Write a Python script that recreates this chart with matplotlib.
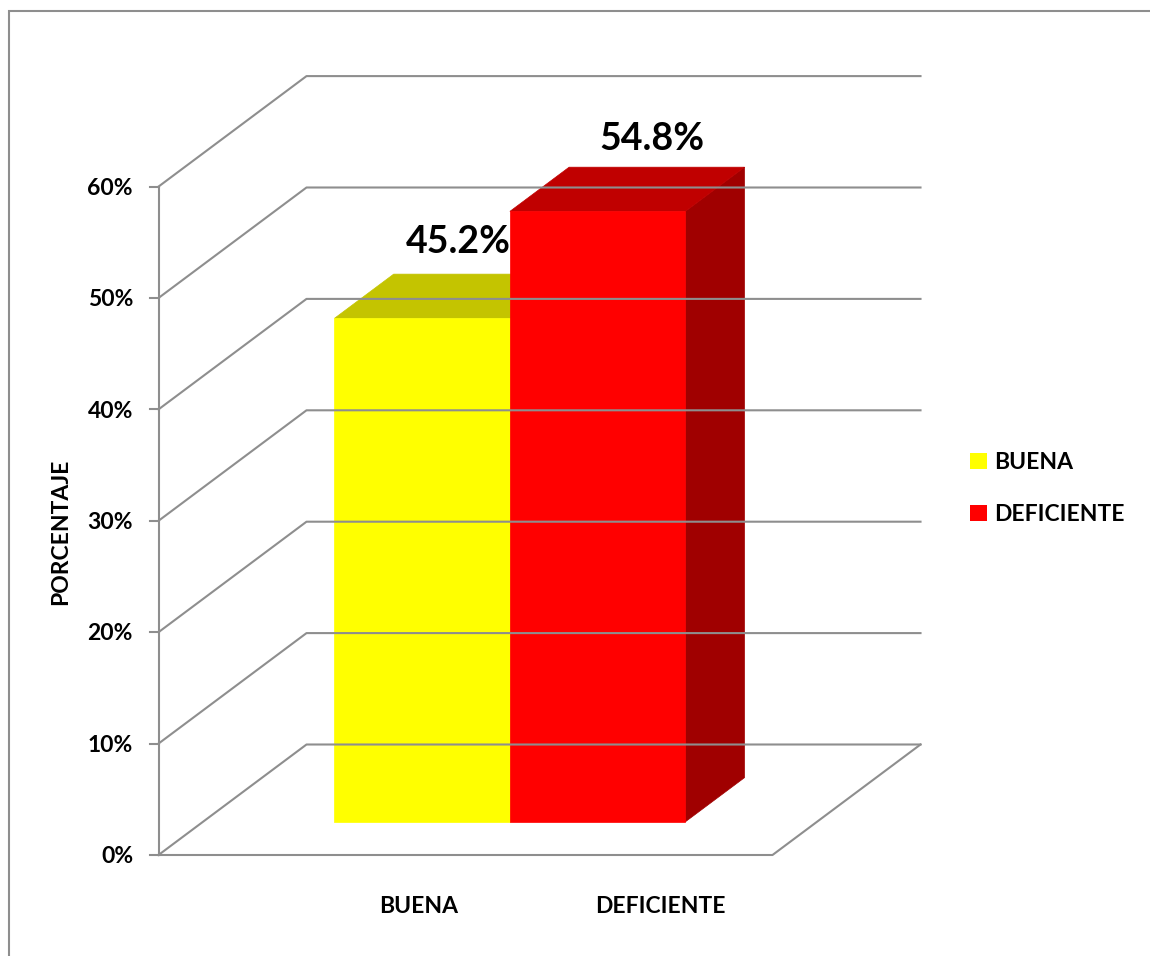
import matplotlib
matplotlib.use('Agg')
import matplotlib.pyplot as plt
from matplotlib.patches import Polygon, Rectangle

# ---------------- data ----------------
categories = ['BUENA', 'DEFICIENTE']
values = [45.2, 54.8]
y_ticks = [0, 10, 20, 30, 40, 50, 60]
y_tick_labels = ['0%', '10%', '20%', '30%', '40%', '50%', '60%']
axis_title = 'PORCENTAJE'

# ---------------- style ----------------
front_colors = ['#FFFF00', '#FF0000']
top_colors = ['#C4C400', '#C00000']
side_colors = ['#A0A000', '#A00000']
GRID = '#8E8E8E'
FONT = ['Lato', 'DejaVu Sans']

# projection of the 3-D box (pixel space of the figure)
X0, Y0 = 158.5, 855.0      # front-left-bottom corner
W = 614.0                  # width of the floor front edge
DX, DY = 148.0, 110.5      # depth offset
PX_PER_PCT = 11.14
GAP_WIDTH = 0.75
D0, D1 = 0.3, 0.7          # bar depth span


def proj(u, v, d):
    return (X0 + u * W + d * DX, Y0 - v * PX_PER_PCT - d * DY)


fig = plt.figure(figsize=(11.5, 9.56), dpi=100)
ax = fig.add_axes([0, 0, 1, 1])
ax.set_xlim(0, 1150)
ax.set_ylim(956, 0)
ax.axis('off')

# chart border (extends past right / bottom edge)
ax.plot([9, 9, 1160], [970, 11, 11], color=GRID, lw=1.5, solid_joinstyle='miter')

# walls gridlines
for t in y_ticks:
    pts = [proj(0, t, 0), proj(0, t, 1), proj(1, t, 1)]
    ax.plot([p[0] for p in pts], [p[1] for p in pts], color=GRID, lw=1.5)
# floor
pts = [proj(0, 0, 0), proj(1, 0, 0), proj(1, 0, 1)]
ax.plot([p[0] for p in pts], [p[1] for p in pts], color=GRID, lw=1.5)
# vertical axis + ticks
a0, a1 = proj(0, 0, 0), proj(0, y_ticks[-1], 0)
ax.plot([a0[0], a1[0]], [a0[1], a1[1]], color=GRID, lw=1.5)
for t, lab in zip(y_ticks, y_tick_labels):
    x, y = proj(0, t, 0)
    ax.plot([x - 8.5, x], [y, y], color=GRID, lw=1.5)
    ax.text(x - 25.5, y + 8.2, lab, ha='right', va='baseline',
            fontsize=16.5, fontweight='bold', family=FONT, color='black')

# bars
cluster = 1.0 / (1.0 + GAP_WIDTH)
bw = cluster / len(values)
LABEL_DX = [-23, -5]
LABEL_DY = [-21, -17]
for i, val in enumerate(values):
    u0 = 0.5 - cluster / 2 + i * bw
    u1 = u0 + bw
    side = [proj(u1, 0, D0), proj(u1, 0, D1), proj(u1, val, D1), proj(u1, val, D0)]
    top = [proj(u0, val, D0), proj(u1, val, D0), proj(u1, val, D1), proj(u0, val, D1)]
    front = [proj(u0, 0, D0), proj(u1, 0, D0), proj(u1, val, D0), proj(u0, val, D0)]
    for poly, col in ((side, side_colors[i]), (top, top_colors[i]), (front, front_colors[i])):
        ax.add_patch(Polygon(poly, closed=True, facecolor=col, edgecolor=col, lw=0.5))
    lx, ly = proj((u0 + u1) / 2, val, D1)
    ax.text(lx + LABEL_DX[i], ly + LABEL_DY[i], f'{val:.1f}%', ha='center', va='baseline',
            fontsize=27, fontweight='bold', family=FONT, color='black')

# category labels
XLABEL_X = [419, 660]
for cat, x in zip(categories, XLABEL_X):
    ax.text(x, 913, cat, ha='center', va='baseline', fontsize=16.5,
            fontweight='bold', family=FONT, color='black')

# axis title
ax.text(67, 532, axis_title, rotation=90, rotation_mode='anchor', ha='center',
        va='baseline', fontsize=16.5, fontweight='bold', family=FONT, color='black')

# legend
LEG_Y = [461, 513]
for cat, col, y in zip(categories, front_colors, LEG_Y):
    ax.add_patch(Rectangle((970, y - 8), 17, 16, facecolor=col, edgecolor='none'))
    ax.text(994, y + 8.2, cat, ha='left', va='baseline', fontsize=16.5,
            fontweight='bold', family=FONT, color='black')

fig.savefig('out.png', dpi=100, facecolor='white')
